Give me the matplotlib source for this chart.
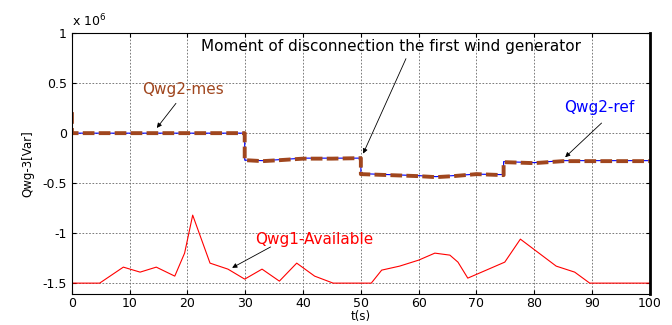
import matplotlib
matplotlib.use("Agg")
import matplotlib.pyplot as plt
from matplotlib.ticker import FuncFormatter

plt.rcParams['font.family'] = ['DejaVu Sans']

# Qwg2 measured / reference (Var)
t_wg2 = [0, 0, 29.9, 29.9, 33, 36, 40, 45, 50, 50, 55, 60, 63, 66, 70, 74.7, 74.7, 80, 85, 90, 100]
q_wg2_mes = [0.21e6, 0, 0, -0.27e6, -0.28e6, -0.27e6, -0.255e6, -0.255e6, -0.25e6, -0.41e6, -0.42e6,
             -0.43e6, -0.44e6, -0.43e6, -0.41e6, -0.42e6, -0.29e6, -0.3e6, -0.28e6, -0.28e6, -0.28e6]
q_wg2_ref = [0.21e6, 0, 0, -0.27e6, -0.275e6, -0.265e6, -0.25e6, -0.25e6, -0.25e6, -0.405e6, -0.415e6,
             -0.425e6, -0.435e6, -0.425e6, -0.41e6, -0.415e6, -0.285e6, -0.295e6, -0.275e6, -0.275e6, -0.275e6]

# Qwg1 available (Var)
t_wg1 = [0, 0.05, 4.8, 8.9, 11.8, 14.6, 17.8, 19.5, 20.9, 23.9, 27, 29.9, 32.9, 35.9, 38.9, 42,
         45.2, 51.8, 53.6, 56.7, 60, 62.8, 65.4, 66.8, 68.5, 74.9, 77.6, 83.8, 87, 89.6, 100]
q_wg1 = [-0.28e6, -1.5e6, -1.5e6, -1.34e6, -1.39e6, -1.34e6, -1.43e6, -1.2e6, -0.82e6, -1.3e6,
         -1.36e6, -1.46e6, -1.36e6, -1.48e6, -1.3e6, -1.43e6, -1.5e6, -1.5e6, -1.37e6, -1.33e6,
         -1.27e6, -1.2e6, -1.22e6, -1.29e6, -1.45e6, -1.29e6, -1.06e6, -1.33e6, -1.39e6, -1.5e6, -1.5e6]

fig = plt.figure(figsize=(6.72, 3.25), dpi=100)
ax = fig.add_axes([0.107, 0.095, 0.860, 0.803])

ax.plot(t_wg1, q_wg1, color='red', lw=0.8)
ax.plot(t_wg2, q_wg2_ref, color='blue', lw=0.8)
ax.plot(t_wg2, q_wg2_mes, color='#a0461e', lw=2.8, dashes=(3, 1.1))

ax.set_xlim(0, 100)
ax.set_ylim(-1.61e6, 1e6)
ax.set_xticks(range(0, 101, 10))
ax.set_yticks([-1.5e6, -1e6, -0.5e6, 0, 0.5e6, 1e6])
ax.yaxis.set_major_formatter(FuncFormatter(lambda v, p: '%g' % (v / 1e6)))
ax.tick_params(direction='in', top=True, right=True, length=3, labelsize=9)
ax.tick_params(axis='x', pad=2)
ax.grid(True, color='#666666', lw=0.6, linestyle=(0, (2, 2)))
ax.spines['right'].set_linewidth(2)
ax.set_xlabel('t(s)', fontsize=8.5, labelpad=0)
ax.set_ylabel('Qwg-3[Var]', fontsize=8.5, labelpad=6)
ax.text(0, 1.015, 'x 10$^{6}$', transform=ax.transAxes, fontsize=9, va='bottom')

arrow = dict(arrowstyle='-|>', color='black', lw=0.6, mutation_scale=7)
ax.text(55.2, 0.87e6, 'Moment of disconnection the first wind generator', fontsize=11,
        ha='center', va='center')
ax.annotate('', xy=(50.2, -0.23e6), xytext=(58, 0.77e6), arrowprops=arrow)
ax.text(19.2, 0.44e6, 'Qwg2-mes', color='#a0461e', fontsize=11, ha='center', va='center')
ax.annotate('', xy=(14.4, 0.03e6), xytext=(18.3, 0.32e6), arrowprops=arrow)
ax.text(91.3, 0.26e6, 'Qwg2-ref', color='blue', fontsize=11, ha='center', va='center')
ax.annotate('', xy=(85, -0.26e6), xytext=(92, 0.12e6), arrowprops=arrow)
ax.text(42, -1.066e6, 'Qwg1-Available', color='red', fontsize=11, ha='center', va='center')
ax.annotate('', xy=(27.3, -1.36e6), xytext=(34.8, -1.125e6), arrowprops=arrow)

fig.savefig('out.png', dpi=100)
